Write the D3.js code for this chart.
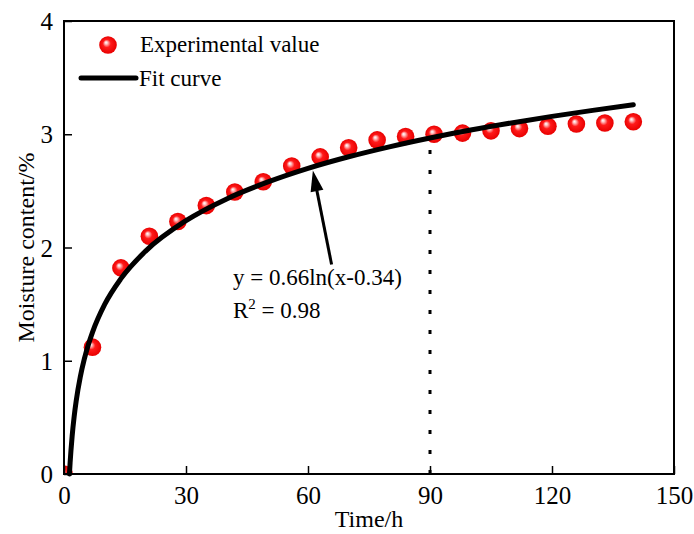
<!DOCTYPE html>
<html>
<head>
<meta charset="utf-8">
<script src="https://cdn.jsdelivr.net/npm/d3@7"></script>
<style>
  html, body { margin: 0; padding: 0; background: #fff; }
  svg { display: block; font-family: "Liberation Serif", "Times New Roman", serif; }
</style>
</head>
<body>
<svg id="chart" width="694" height="534"></svg>
<script>
// ---- data ----
const times = [0, 7, 14, 21, 28, 35, 42, 49, 56, 63, 70, 77, 84, 91, 98, 105, 112, 119, 126, 133, 140];
const moisture = [0, 1.12, 1.82, 2.10, 2.23, 2.37, 2.49, 2.58, 2.72, 2.80, 2.88, 2.95, 2.98, 3.00, 3.01, 3.03, 3.05, 3.07, 3.09, 3.10, 3.11];
const fitX = [1.34, 1.5, 2, 2.5, 3, 4, 5, 6, 7, 10, 14, 20, 30, 40, 50, 60, 70, 80, 90, 100, 110, 120, 130, 140];
const fitY = [0, 0.098, 0.334, 0.508, 0.646, 0.856, 1.016, 1.144, 1.251, 1.497, 1.725, 1.966, 2.237, 2.429, 2.577, 2.699, 2.801, 2.889, 2.967, 3.037, 3.100, 3.158, 3.211, 3.260];
const xTicks = [0, 30, 60, 90, 120, 150];
const yTicks = [0, 1, 2, 3, 4];
const guideX = 90, guideTop = 2.97;
const arrowTip = [61.2, 2.68], arrowTail = [65.8, 1.85];
const eqLines = ["y = 0.66ln(x-0.34)", "R", "2", " = 0.98"];
const legendLabels = ["Experimental value", "Fit curve"];
const xTitle = "Time/h", yTitle = "Moisture content/%";

// ---- layout ----
const L = 64, R = 674, T = 21, B = 474;
const svg = d3.select("#chart");
const x = d3.scaleLinear().domain([0, 150]).range([L, R]);
const y = d3.scaleLinear().domain([0, 4]).range([B, T]);

const defs = svg.append("defs");
const g = defs.append("radialGradient").attr("id", "ball")
  .attr("cx", "50%").attr("cy", "50%").attr("r", "50%").attr("fx", "38%").attr("fy", "35%");
g.append("stop").attr("offset", "0%").attr("stop-color", "#ffffff");
g.append("stop").attr("offset", "15%").attr("stop-color", "#ffc8c8");
g.append("stop").attr("offset", "45%").attr("stop-color", "#ff1a1a");
g.append("stop").attr("offset", "100%").attr("stop-color", "#e80000");
defs.append("clipPath").attr("id", "plotclip").append("rect")
  .attr("x", L).attr("y", T).attr("width", R - L).attr("height", B - T);

// guide line
svg.append("line")
  .attr("x1", x(guideX)).attr("x2", x(guideX))
  .attr("y1", y(0)).attr("y2", y(guideTop))
  .attr("stroke", "#000").attr("stroke-width", 3)
  .attr("stroke-dasharray", "4,16");

// points
svg.append("g").attr("clip-path", "url(#plotclip)")
  .selectAll("circle").data(times.map((t, i) => [t, moisture[i]]))
  .join("circle")
  .attr("cx", d => x(d[0])).attr("cy", d => y(d[1])).attr("r", 8.8)
  .attr("fill", "url(#ball)");

// fit curve
const line = d3.line().x(d => x(d[0])).y(d => y(d[1])).curve(d3.curveMonotoneX);
svg.append("path")
  .datum(fitX.map((v, i) => [v, fitY[i]]))
  .attr("d", line)
  .attr("fill", "none").attr("stroke", "#000").attr("stroke-width", 5)
  .attr("stroke-linecap", "round");

// axes
const xAxis = d3.axisBottom(x).tickValues(xTicks).tickFormat(d3.format("d"))
  .tickSizeInner(-8).tickSizeOuter(0).tickPadding(12);
const yAxis = d3.axisLeft(y).tickValues(yTicks).tickFormat(d3.format("d"))
  .tickSizeInner(-8).tickSizeOuter(0).tickPadding(11);
const gx = svg.append("g").attr("transform", `translate(0,${B})`).call(xAxis);
const gy = svg.append("g").attr("transform", `translate(${L},0)`).call(yAxis);
[gx, gy].forEach(a => {
  a.select(".domain").remove();
  a.selectAll(".tick line").attr("stroke", "#000").attr("stroke-width", 1.5);
  a.selectAll(".tick text").attr("font-size", 25).attr("fill", "#000")
    .attr("font-family", "'Liberation Serif', 'Times New Roman', serif");
});
gy.selectAll(".tick text").attr("dy", "0.34em");

// frame
svg.append("rect").attr("x", L).attr("y", T).attr("width", R - L).attr("height", B - T)
  .attr("fill", "none").attr("stroke", "#000").attr("stroke-width", 2);

// axis titles
svg.append("text").attr("x", (L + R) / 2).attr("y", 527).attr("text-anchor", "middle")
  .attr("font-size", 24).text(xTitle);
svg.append("text").attr("transform", `translate(34,${(T + B) / 2}) rotate(-90)`)
  .attr("text-anchor", "middle").attr("font-size", 24).text(yTitle);

// arrow
const tx = x(arrowTip[0]), ty = y(arrowTip[1]), sx = x(arrowTail[0]), sy = y(arrowTail[1]);
const len = Math.hypot(tx - sx, ty - sy), ux = (tx - sx) / len, uy = (ty - sy) / len;
const headL = 21, headW = 6.5;
const bx = tx - ux * headL, by = ty - uy * headL;
svg.append("line").attr("x1", sx).attr("y1", sy).attr("x2", bx + ux * 2).attr("y2", by + uy * 2)
  .attr("stroke", "#000").attr("stroke-width", 3);
svg.append("path")
  .attr("d", `M${tx},${ty} L${bx - uy * headW},${by + ux * headW} L${bx + uy * headW},${by - ux * headW} Z`)
  .attr("fill", "#000");

// equation
svg.append("text").attr("x", 233).attr("y", 285).attr("font-size", 23).text(eqLines[0]);
const r2 = svg.append("text").attr("x", 233).attr("y", 318).attr("font-size", 23);
r2.append("tspan").text(eqLines[1]);
r2.append("tspan").attr("font-size", 15).attr("dy", -9).text(eqLines[2]);
r2.append("tspan").attr("dy", 9).text(eqLines[3]);

// legend
svg.append("circle").attr("cx", 108).attr("cy", 45).attr("r", 8.8).attr("fill", "url(#ball)");
svg.append("text").attr("x", 140).attr("y", 52).attr("font-size", 23).text(legendLabels[0]);
svg.append("line").attr("x1", 81).attr("x2", 136).attr("y1", 78).attr("y2", 78)
  .attr("stroke", "#000").attr("stroke-width", 5).attr("stroke-linecap", "round");
svg.append("text").attr("x", 139).attr("y", 86).attr("font-size", 23).text(legendLabels[1]);
</script>
</body>
</html>
